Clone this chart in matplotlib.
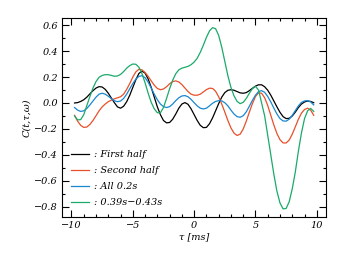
import matplotlib
matplotlib.use("Agg")
import matplotlib.pyplot as plt
from matplotlib.ticker import MultipleLocator

# lag axis (ms), sampled every 0.25 ms from -9.75 to 9.75
tau = [round(-9.75 + 0.25 * k, 2) for k in range(79)]

first_half = [
    0.000, 0.003, 0.012, 0.025, 0.045, 0.070, 0.095, 0.115, 0.126, 0.123,
    0.105, 0.075, 0.038, 0.002, -0.030, -0.040, -0.025, 0.010, 0.060, 0.120,
    0.180, 0.228, 0.245, 0.230, 0.185, 0.120, 0.045, -0.030, -0.090, -0.135,
    -0.153, -0.150, -0.125, -0.085, -0.040, -0.008, 0.003, -0.010, -0.045, -0.090,
    -0.135, -0.172, -0.190, -0.188, -0.160, -0.115, -0.060, -0.005, 0.045, 0.080,
    0.098, 0.102, 0.098, 0.088, 0.078, 0.075, 0.080, 0.095, 0.113, 0.130,
    0.140, 0.140, 0.125, 0.098, 0.060, 0.015, -0.030, -0.072, -0.105, -0.120,
    -0.118, -0.100, -0.070, -0.035, -0.008, 0.008, 0.015, 0.012, 0.002]

second_half = [
    -0.095, -0.140, -0.172, -0.188, -0.185, -0.165, -0.135, -0.098, -0.060, -0.030,
    -0.008, 0.010, 0.022, 0.032, 0.040, 0.048, 0.068, 0.105, 0.150, 0.200,
    0.240, 0.260, 0.255, 0.235, 0.205, 0.170, 0.137, 0.112, 0.102, 0.108,
    0.125, 0.148, 0.165, 0.170, 0.162, 0.142, 0.115, 0.088, 0.068, 0.060,
    0.060, 0.068, 0.085, 0.103, 0.114, 0.112, 0.090, 0.048, -0.008, -0.070,
    -0.135, -0.192, -0.232, -0.250, -0.240, -0.200, -0.140, -0.070, -0.005, 0.050,
    0.078, 0.075, 0.040, -0.020, -0.095, -0.170, -0.235, -0.283, -0.307, -0.308,
    -0.285, -0.240, -0.183, -0.125, -0.078, -0.050, -0.040, -0.055, -0.095]

all_02s = [
    -0.035, -0.055, -0.065, -0.060, -0.042, -0.015, 0.015, 0.045, 0.068, 0.075,
    0.068, 0.052, 0.033, 0.017, 0.010, 0.015, 0.035, 0.068, 0.110, 0.150,
    0.185, 0.205, 0.210, 0.195, 0.160, 0.115, 0.068, 0.025, -0.008, -0.028,
    -0.035, -0.028, -0.008, 0.018, 0.040, 0.054, 0.057, 0.048, 0.028, 0.002,
    -0.022, -0.040, -0.046, -0.040, -0.022, -0.002, 0.012, 0.018, 0.016, 0.002,
    -0.022, -0.055, -0.085, -0.105, -0.110, -0.098, -0.068, -0.025, 0.020, 0.060,
    0.088, 0.095, 0.082, 0.050, 0.008, -0.040, -0.085, -0.120, -0.138, -0.140,
    -0.125, -0.095, -0.058, -0.022, 0.005, 0.016, 0.018, 0.008, -0.015]

window = [
    -0.100, -0.130, -0.128, -0.090, -0.020, 0.050, 0.115, 0.165, 0.198, 0.212,
    0.218, 0.218, 0.212, 0.206, 0.208, 0.220, 0.242, 0.268, 0.288, 0.300,
    0.298, 0.275, 0.225, 0.155, 0.075, 0.005, -0.045, -0.075, -0.075, -0.035,
    0.035, 0.110, 0.175, 0.225, 0.255, 0.268, 0.275, 0.282, 0.295, 0.315,
    0.345, 0.390, 0.445, 0.505, 0.555, 0.580, 0.572, 0.520, 0.430, 0.320,
    0.210, 0.120, 0.055, 0.012, -0.005, 0.005, 0.035, 0.075, 0.110, 0.128,
    0.100, 0.000, -0.100, -0.250, -0.400, -0.550, -0.680, -0.770, -0.815, -0.812,
    -0.760, -0.660, -0.530, -0.370, -0.230, -0.120, -0.060, -0.042, -0.065]

labels = [": First half", ": Second half", ": All 0.2s", ": 0.39s\u22120.43s"]
colors = ["black", "#e8502a", "#1a87d0", "#1aaa6a"]

plt.rcParams["font.family"] = ["DejaVu Serif"]
plt.rcParams["font.style"] = "italic"
plt.rcParams["font.size"] = 7

fig = plt.figure(figsize=(3.54, 2.63), dpi=100)
ax = fig.add_axes([62.3 / 354, 1 - 217.3 / 263, (326 - 62.3) / 354, (217.3 - 18.3) / 263])

for series, lab, col in zip([first_half, second_half, all_02s, window], labels, colors):
    ax.plot(tau, series, color=col, lw=0.9, label=lab)

ax.set_xlim(-10.75, 10.75)
ax.set_ylim(-0.88, 0.652)
ax.xaxis.set_major_locator(MultipleLocator(5))
ax.xaxis.set_minor_locator(MultipleLocator(1))
ax.yaxis.set_major_locator(MultipleLocator(0.2))
ax.yaxis.set_minor_locator(MultipleLocator(0.1))
ax.tick_params(which="both", direction="in", top=True, right=True, width=0.8, pad=3)
ax.tick_params(which="major", length=5)
ax.tick_params(which="minor", length=2.5)
for s in ax.spines.values():
    s.set_linewidth(0.8)

ax.set_xlabel("\u03c4 [ms]", labelpad=1)
ax.set_ylabel("C(t,\u03c4,\u03c9)", labelpad=2)

ax.legend(loc="lower left", bbox_to_anchor=(0.032, 0.05), frameon=False,
          borderpad=0, borderaxespad=0, handlelength=1.9, handletextpad=0.5,
          labelspacing=0.72)

fig.savefig("out.png", dpi=100)
